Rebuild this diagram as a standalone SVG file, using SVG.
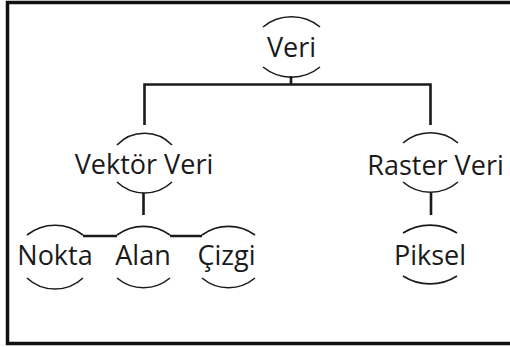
<svg xmlns="http://www.w3.org/2000/svg" width="510" height="347" viewBox="0 0 510 347">
<style>
.t{font-family:"Open Sans","Noto Sans",sans-serif;font-size:27px;fill:#1a1a1a;text-anchor:middle}
.arc{fill:none;stroke:#1a1a1a;stroke-width:1.6}
.c{fill:none;stroke:#1a1a1a;stroke-width:2.6}
</style>
<rect x="0" y="0" width="510" height="347" fill="#fff"/>
<rect x="7.5" y="2.5" width="510" height="341" fill="none" stroke="#111" stroke-width="3.5"/>
<g id="connectors">
<path class="c" d="M291,76 V84.5 M144.5,125 V84.5 H430.5 V125"/>
<path class="c" d="M143.5,193 V215 M431,192 V215"/>
<path class="c" d="M83,236 H117 M170,236 H202"/>
</g>
<g id="veri">
<path class="arc" d="M263,27 A45 45 0 0 1 320,27 M263,67 A45 45 0 0 0 320,67"/>
<text class="t" x="291.5" y="57">Veri</text>
</g>
<g id="vektor">
<path class="arc" d="M117,145 A38 38 0 0 1 172,145 M117,182 A40 40 0 0 0 172,182"/>
<text class="t" x="144" y="174">Vektör Veri</text>
</g>
<g id="raster">
<path class="arc" d="M403,143 A42 42 0 0 1 458,143 M403,182 A42 42 0 0 0 458,182"/>
<text class="t" x="435.5" y="175">Raster Veri</text>
</g>
<g id="nokta">
<path class="arc" d="M27,235 A45 45 0 0 1 83,235 M27,278 A41 41 0 0 0 83,278"/>
<text class="t" x="55" y="265">Nokta</text>
</g>
<g id="alan">
<path class="arc" d="M117,235 A45 45 0 0 1 170,235 M117,278 A41 41 0 0 0 170,278"/>
<text class="t" x="143" y="265">Alan</text>
</g>
<g id="cizgi">
<path class="arc" d="M202,235 A45 45 0 0 1 255,235 M202,278 A41 41 0 0 0 255,278"/>
<text class="t" x="226.5" y="265">Çizgi</text>
</g>
<g id="piksel">
<path class="arc" d="M403,233 A50 50 0 0 1 457,233 M403,276 A50 50 0 0 0 457,276"/>
<text class="t" x="430" y="265">Piksel</text>
</g>
</svg>
